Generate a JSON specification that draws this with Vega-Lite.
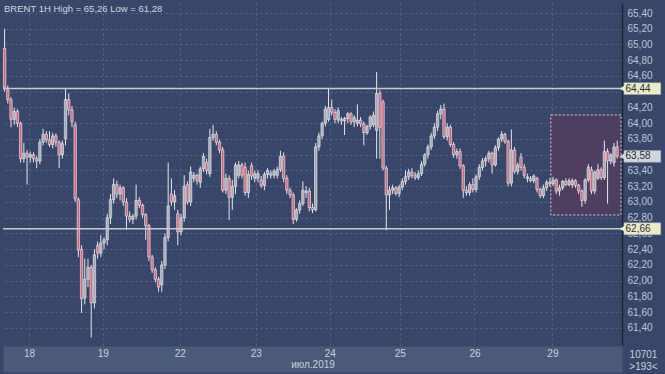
{
  "$schema": "https://vega.github.io/schema/vega-lite/v6.json",
  "width": 619,
  "height": 342,
  "autosize": {"type": "none"},
  "padding": {"left": 3, "top": 3, "right": 43, "bottom": 29},
  "background": "#384669",
  "title": {"text": "BRENT 1H High = 65,26 Low = 61,28", "anchor": "start", "frame": "group", "orient": "top", "offset": -10, "fontSize": 9.5, "font": "Liberation Sans Narrow, Liberation Sans", "fontWeight": "normal", "color": "#d0d6e0", "dx": 1},
  "config": {
    "view": {"fill": "#384669", "stroke": null},
    "font": "Liberation Sans",
    "axis": {"labelOverlap": false, "labelFlush": false}
  },
  "resolve": {"axis": {"x": "independent"}},
  "datasets": {
    "candles": [
      {"i":0,"o":64.95,"h":65.20,"l":64.40,"c":64.45},
      {"i":1,"o":64.42,"h":64.48,"l":64.25,"c":64.30},
      {"i":2,"o":64.30,"h":64.33,"l":63.95,"c":64.05},
      {"i":3,"o":64.05,"h":64.20,"l":63.98,"c":64.15},
      {"i":4,"o":64.15,"h":64.18,"l":63.95,"c":64.00},
      {"i":5,"o":64.00,"h":64.02,"l":63.50,"c":63.55},
      {"i":6,"o":63.55,"h":63.75,"l":63.50,"c":63.62},
      {"i":7,"o":63.62,"h":63.66,"l":63.22,"c":63.57},
      {"i":8,"o":63.57,"h":63.64,"l":63.50,"c":63.60},
      {"i":9,"o":63.60,"h":63.63,"l":63.50,"c":63.55},
      {"i":10,"o":63.55,"h":63.58,"l":63.43,"c":63.52},
      {"i":11,"o":63.52,"h":63.80,"l":63.48,"c":63.76},
      {"i":12,"o":63.76,"h":63.93,"l":63.72,"c":63.86},
      {"i":13,"o":63.86,"h":63.90,"l":63.75,"c":63.79},
      {"i":14,"o":63.79,"h":63.90,"l":63.70,"c":63.73},
      {"i":15,"o":63.73,"h":63.88,"l":63.68,"c":63.84},
      {"i":16,"o":63.84,"h":63.87,"l":63.70,"c":63.76},
      {"i":17,"o":63.76,"h":63.78,"l":63.43,"c":63.60},
      {"i":18,"o":63.60,"h":63.78,"l":63.55,"c":63.74},
      {"i":19,"o":63.80,"h":64.45,"l":63.72,"c":64.30},
      {"i":20,"o":64.30,"h":64.38,"l":64.10,"c":64.17},
      {"i":21,"o":64.17,"h":64.22,"l":63.95,"c":64.02},
      {"i":22,"o":63.98,"h":64.02,"l":63.00,"c":63.04},
      {"i":23,"o":63.03,"h":63.06,"l":62.30,"c":62.39},
      {"i":24,"o":62.40,"h":62.45,"l":61.59,"c":61.77},
      {"i":25,"o":61.78,"h":62.28,"l":61.70,"c":62.02},
      {"i":26,"o":62.02,"h":62.28,"l":61.92,"c":62.17},
      {"i":27,"o":62.17,"h":62.20,"l":61.28,"c":61.72},
      {"i":28,"o":61.72,"h":62.40,"l":61.65,"c":62.33},
      {"i":29,"o":62.45,"h":62.50,"l":62.28,"c":62.35},
      {"i":30,"o":62.35,"h":62.58,"l":62.30,"c":62.48},
      {"i":31,"o":62.48,"h":62.55,"l":62.40,"c":62.52},
      {"i":32,"o":62.52,"h":62.85,"l":62.45,"c":62.80},
      {"i":33,"o":62.80,"h":63.10,"l":62.72,"c":63.03},
      {"i":34,"o":63.03,"h":63.30,"l":62.98,"c":63.22},
      {"i":35,"o":63.22,"h":63.27,"l":63.05,"c":63.10},
      {"i":36,"o":63.10,"h":63.22,"l":63.02,"c":63.18},
      {"i":37,"o":63.18,"h":63.20,"l":62.95,"c":63.00},
      {"i":38,"o":63.00,"h":63.05,"l":62.65,"c":62.82},
      {"i":39,"o":62.82,"h":62.88,"l":62.74,"c":62.78},
      {"i":40,"o":62.78,"h":62.85,"l":62.72,"c":62.82},
      {"i":41,"o":62.82,"h":63.22,"l":62.78,"c":63.02},
      {"i":42,"o":63.02,"h":63.06,"l":62.92,"c":62.96},
      {"i":43,"o":62.96,"h":62.98,"l":62.80,"c":62.84},
      {"i":44,"o":62.84,"h":62.86,"l":62.52,"c":62.70},
      {"i":45,"o":62.70,"h":62.72,"l":62.25,"c":62.30},
      {"i":46,"o":62.30,"h":62.33,"l":62.10,"c":62.14},
      {"i":47,"o":62.14,"h":62.17,"l":61.98,"c":62.02},
      {"i":48,"o":62.02,"h":62.05,"l":61.86,"c":61.92},
      {"i":49,"o":61.95,"h":62.25,"l":61.86,"c":62.20},
      {"i":50,"o":62.20,"h":62.60,"l":62.15,"c":62.55},
      {"i":51,"o":62.55,"h":63.50,"l":62.50,"c":62.95},
      {"i":52,"o":63.10,"h":63.30,"l":62.95,"c":63.00},
      {"i":53,"o":63.00,"h":63.15,"l":62.90,"c":63.08},
      {"i":54,"o":62.85,"h":62.90,"l":62.45,"c":62.62},
      {"i":55,"o":62.62,"h":62.85,"l":62.58,"c":62.80},
      {"i":56,"o":62.80,"h":63.34,"l":62.75,"c":63.20},
      {"i":57,"o":63.22,"h":63.26,"l":62.97,"c":63.00},
      {"i":58,"o":63.00,"h":63.45,"l":62.95,"c":63.38},
      {"i":59,"o":63.30,"h":63.38,"l":63.25,"c":63.34},
      {"i":60,"o":63.34,"h":63.36,"l":63.22,"c":63.27},
      {"i":61,"o":63.25,"h":63.45,"l":63.18,"c":63.42},
      {"i":62,"o":63.42,"h":63.62,"l":63.38,"c":63.58},
      {"i":63,"o":63.50,"h":63.55,"l":63.35,"c":63.40},
      {"i":64,"o":63.36,"h":63.93,"l":63.32,"c":63.82},
      {"i":65,"o":63.82,"h":63.98,"l":63.78,"c":63.86},
      {"i":66,"o":63.86,"h":63.90,"l":63.72,"c":63.76},
      {"i":67,"o":63.76,"h":63.79,"l":63.62,"c":63.66},
      {"i":68,"o":63.66,"h":63.70,"l":63.12,"c":63.15},
      {"i":69,"o":63.15,"h":63.36,"l":63.10,"c":63.30},
      {"i":70,"o":63.30,"h":63.34,"l":62.77,"c":63.06},
      {"i":71,"o":63.06,"h":63.28,"l":62.90,"c":63.20},
      {"i":72,"o":63.20,"h":63.50,"l":63.10,"c":63.47},
      {"i":73,"o":63.34,"h":63.52,"l":63.30,"c":63.47},
      {"i":74,"o":63.47,"h":63.50,"l":63.30,"c":63.34},
      {"i":75,"o":63.44,"h":63.50,"l":63.08,"c":63.12},
      {"i":76,"o":63.12,"h":63.40,"l":63.05,"c":63.35},
      {"i":77,"o":63.46,"h":63.50,"l":63.28,"c":63.33},
      {"i":78,"o":63.30,"h":63.40,"l":63.25,"c":63.36},
      {"i":79,"o":63.30,"h":63.40,"l":63.25,"c":63.36},
      {"i":80,"o":63.28,"h":63.33,"l":63.18,"c":63.21},
      {"i":81,"o":63.21,"h":63.38,"l":63.15,"c":63.35},
      {"i":82,"o":63.35,"h":63.43,"l":63.30,"c":63.40},
      {"i":83,"o":63.36,"h":63.40,"l":63.30,"c":63.34},
      {"i":84,"o":63.34,"h":63.42,"l":63.30,"c":63.39},
      {"i":85,"o":63.34,"h":63.45,"l":63.30,"c":63.41},
      {"i":86,"o":63.41,"h":63.65,"l":63.38,"c":63.58},
      {"i":87,"o":63.58,"h":63.63,"l":63.25,"c":63.30},
      {"i":88,"o":63.30,"h":63.34,"l":63.10,"c":63.15},
      {"i":89,"o":63.15,"h":63.18,"l":63.05,"c":63.09},
      {"i":90,"o":63.09,"h":63.12,"l":62.72,"c":62.78},
      {"i":91,"o":62.78,"h":62.92,"l":62.75,"c":62.90},
      {"i":92,"o":62.90,"h":63.02,"l":62.85,"c":62.98},
      {"i":93,"o":62.98,"h":63.26,"l":62.95,"c":63.15},
      {"i":94,"o":63.12,"h":63.20,"l":63.05,"c":63.14},
      {"i":95,"o":63.14,"h":63.18,"l":62.88,"c":62.93},
      {"i":96,"o":62.93,"h":62.98,"l":62.86,"c":62.90},
      {"i":97,"o":62.90,"h":63.75,"l":62.88,"c":63.70},
      {"i":98,"o":63.70,"h":63.88,"l":63.65,"c":63.84},
      {"i":99,"o":63.84,"h":64.02,"l":63.80,"c":64.00},
      {"i":100,"o":64.00,"h":64.22,"l":63.96,"c":64.18},
      {"i":101,"o":64.05,"h":64.45,"l":64.02,"c":64.20},
      {"i":102,"o":64.20,"h":64.30,"l":64.10,"c":64.14},
      {"i":103,"o":64.14,"h":64.18,"l":64.00,"c":64.05},
      {"i":104,"o":64.04,"h":64.20,"l":64.00,"c":64.16},
      {"i":105,"o":64.05,"h":64.08,"l":63.98,"c":64.03},
      {"i":106,"o":64.03,"h":64.08,"l":63.85,"c":64.06},
      {"i":107,"o":64.06,"h":64.14,"l":64.00,"c":64.12},
      {"i":108,"o":64.12,"h":64.14,"l":63.98,"c":64.02},
      {"i":109,"o":64.02,"h":64.10,"l":63.95,"c":64.07},
      {"i":110,"o":64.00,"h":64.24,"l":63.96,"c":64.04},
      {"i":111,"o":64.04,"h":64.08,"l":63.95,"c":63.99},
      {"i":112,"o":63.99,"h":64.02,"l":63.72,"c":63.88},
      {"i":113,"o":63.88,"h":63.98,"l":63.85,"c":63.96},
      {"i":114,"o":63.96,"h":64.10,"l":63.92,"c":64.08},
      {"i":115,"o":63.98,"h":64.15,"l":63.95,"c":64.10},
      {"i":116,"o":63.91,"h":64.65,"l":63.55,"c":64.38},
      {"i":117,"o":64.38,"h":64.42,"l":63.55,"c":63.95},
      {"i":118,"o":64.27,"h":64.30,"l":63.40,"c":63.43},
      {"i":119,"o":63.43,"h":63.46,"l":62.64,"c":63.09},
      {"i":120,"o":63.09,"h":63.20,"l":62.90,"c":63.15},
      {"i":121,"o":63.15,"h":63.22,"l":63.10,"c":63.18},
      {"i":122,"o":63.18,"h":63.20,"l":63.08,"c":63.11},
      {"i":123,"o":63.11,"h":63.22,"l":63.06,"c":63.19},
      {"i":124,"o":63.19,"h":63.30,"l":63.15,"c":63.26},
      {"i":125,"o":63.26,"h":63.40,"l":63.22,"c":63.32},
      {"i":126,"o":63.32,"h":63.42,"l":63.28,"c":63.38},
      {"i":127,"o":63.38,"h":63.43,"l":63.30,"c":63.34},
      {"i":128,"o":63.34,"h":63.38,"l":63.28,"c":63.31},
      {"i":129,"o":63.31,"h":63.40,"l":63.28,"c":63.36},
      {"i":130,"o":63.36,"h":63.52,"l":63.33,"c":63.48},
      {"i":131,"o":63.48,"h":63.62,"l":63.45,"c":63.60},
      {"i":132,"o":63.60,"h":63.73,"l":63.55,"c":63.70},
      {"i":133,"o":63.70,"h":63.88,"l":63.66,"c":63.84},
      {"i":134,"o":63.84,"h":64.00,"l":63.80,"c":63.95},
      {"i":135,"o":63.95,"h":64.16,"l":63.90,"c":64.12},
      {"i":136,"o":64.12,"h":64.23,"l":64.05,"c":64.18},
      {"i":137,"o":64.18,"h":64.25,"l":63.80,"c":63.83},
      {"i":138,"o":63.83,"h":64.00,"l":63.78,"c":63.95},
      {"i":139,"o":63.95,"h":63.98,"l":63.70,"c":63.73},
      {"i":140,"o":63.73,"h":63.76,"l":63.56,"c":63.60},
      {"i":141,"o":63.60,"h":63.68,"l":63.55,"c":63.64},
      {"i":142,"o":63.64,"h":63.68,"l":63.42,"c":63.46},
      {"i":143,"o":63.46,"h":63.48,"l":63.05,"c":63.15},
      {"i":144,"o":63.15,"h":63.20,"l":63.08,"c":63.12},
      {"i":145,"o":63.12,"h":63.25,"l":63.08,"c":63.22},
      {"i":146,"o":63.22,"h":63.30,"l":63.12,"c":63.16},
      {"i":147,"o":63.16,"h":63.35,"l":63.12,"c":63.32},
      {"i":148,"o":63.32,"h":63.48,"l":63.28,"c":63.44},
      {"i":149,"o":63.44,"h":63.56,"l":63.40,"c":63.52},
      {"i":150,"o":63.52,"h":63.58,"l":63.45,"c":63.55},
      {"i":151,"o":63.55,"h":63.65,"l":63.50,"c":63.62},
      {"i":152,"o":63.62,"h":63.64,"l":63.36,"c":63.47},
      {"i":153,"o":63.47,"h":63.72,"l":63.45,"c":63.69},
      {"i":154,"o":63.69,"h":63.82,"l":63.65,"c":63.80},
      {"i":155,"o":63.80,"h":63.90,"l":63.76,"c":63.86},
      {"i":156,"o":63.86,"h":63.88,"l":63.74,"c":63.77},
      {"i":157,"o":63.77,"h":63.79,"l":63.20,"c":63.24},
      {"i":158,"o":63.24,"h":63.92,"l":63.20,"c":63.66},
      {"i":159,"o":63.66,"h":63.70,"l":63.36,"c":63.39},
      {"i":160,"o":63.39,"h":63.50,"l":63.35,"c":63.47},
      {"i":161,"o":63.57,"h":63.62,"l":63.40,"c":63.44},
      {"i":162,"o":63.44,"h":63.48,"l":63.30,"c":63.34},
      {"i":163,"o":63.30,"h":63.36,"l":63.25,"c":63.32},
      {"i":164,"o":63.30,"h":63.33,"l":63.25,"c":63.27},
      {"i":165,"o":63.27,"h":63.35,"l":63.24,"c":63.33},
      {"i":166,"o":63.30,"h":63.32,"l":63.12,"c":63.16},
      {"i":167,"o":63.16,"h":63.18,"l":63.05,"c":63.08},
      {"i":168,"o":63.08,"h":63.22,"l":63.05,"c":63.18},
      {"i":169,"o":63.18,"h":63.28,"l":63.14,"c":63.25},
      {"i":170,"o":63.25,"h":63.30,"l":63.20,"c":63.23},
      {"i":171,"o":63.23,"h":63.32,"l":63.20,"c":63.28},
      {"i":172,"o":63.28,"h":63.30,"l":63.10,"c":63.14},
      {"i":173,"o":63.14,"h":63.22,"l":63.08,"c":63.18},
      {"i":174,"o":63.18,"h":63.28,"l":63.15,"c":63.26},
      {"i":175,"o":63.26,"h":63.30,"l":63.20,"c":63.22},
      {"i":176,"o":63.22,"h":63.30,"l":63.20,"c":63.27},
      {"i":177,"o":63.22,"h":63.30,"l":63.18,"c":63.27},
      {"i":178,"o":63.27,"h":63.29,"l":63.18,"c":63.21},
      {"i":179,"o":63.21,"h":63.23,"l":63.10,"c":63.14},
      {"i":180,"o":63.14,"h":63.16,"l":62.94,"c":63.02},
      {"i":181,"o":63.02,"h":63.30,"l":62.98,"c":63.28},
      {"i":182,"o":63.28,"h":63.48,"l":63.25,"c":63.44},
      {"i":183,"o":63.41,"h":63.45,"l":63.10,"c":63.14},
      {"i":184,"o":63.14,"h":63.40,"l":63.10,"c":63.38},
      {"i":185,"o":63.30,"h":63.48,"l":63.28,"c":63.41},
      {"i":186,"o":63.41,"h":63.44,"l":63.28,"c":63.31},
      {"i":187,"o":63.31,"h":63.78,"l":63.28,"c":63.64},
      {"i":188,"o":63.64,"h":63.68,"l":62.98,"c":63.52},
      {"i":189,"o":63.52,"h":63.62,"l":63.48,"c":63.60},
      {"i":190,"o":63.50,"h":63.75,"l":63.45,"c":63.70},
      {"i":191,"o":63.70,"h":63.78,"l":63.55,"c":63.58}
    ],
    "levels": [{"v": 64.44}, {"v": 62.66}],
    "zone": [{"x1": 170.3, "x2": 192.2, "y1": 64.105, "y2": 62.835}],
    "tags": [
      {"v": 64.44, "top": 64.515, "bot": 64.365, "label": "64,44", "kind": "level"},
      {"v": 62.66, "top": 62.735, "bot": 62.585, "label": "62,66", "kind": "level"},
      {"v": 63.58, "top": 63.655, "bot": 63.505, "label": "63,58", "kind": "last"}
    ]
  },
  "layer": [
    {
      "data": {"name": "zone"},
      "mark": {"type": "rect", "fill": "#4e3e5f", "stroke": "#e4d4e4", "strokeDash": [2, 2], "strokeWidth": 1},
      "encoding": {
        "x": {"field": "x1", "type": "quantitative", "scale": {"domain": [-0.5, 192.5], "nice": false, "zero": false, "padding": 0},
          "axis": {
            "orient": "bottom", "zindex": 0,
            "values": [7.6, 30.6, 54.6, 78.3, 101.4, 123.2, 146.5, 170.8], "tickCount": 30,
            "grid": true, "gridColor": "#56668a", "gridDash": [2, 3], "gridWidth": 1,
            "ticks": false, "tickSize": 0, "labels": false, "title": null,
            "domain": true, "domainColor": "#4b5a78", "domainWidth": 26, "offset": 14
          }},
        "x2": {"field": "x2"},
        "y": {"field": "y1", "type": "quantitative", "scale": {"domain": [61.184, 65.527], "nice": false, "zero": false, "padding": 0},
          "axis": {
            "orient": "right",
            "values": [61.4, 61.6, 61.8, 62.0, 62.2, 62.4, 62.6, 62.8, 63.0, 63.2, 63.4, 63.6, 63.8, 64.0, 64.2, 64.4, 64.6, 64.8, 65.0, 65.2, 65.4],
            "tickCount": 40,
            "labelExpr": "(datum.value == 64.4 || datum.value == 63.6) ? '' : replace(format(datum.value, '.2f'), '.', ',')",
            "labelOverlap": false, "labelFlush": false,
            "grid": true, "gridColor": "#56668a", "gridDash": [2, 3], "gridWidth": 1,
            "ticks": false, "tickSize": 0,
            "domain": true, "domainColor": "#1c2436", "domainWidth": 1.5,
            "labelPadding": 5, "labelColor": "#bcc6d8", "labelFontSize": 10, "labelFont": "Liberation Sans",
            "title": ["10701", ">193<"], "titleAngle": 0, "titleX": 21, "titleY": 346, "titleAlign": "center", "titleBaseline": "top",
            "titleColor": "#c8d0dc", "titleFontSize": 10, "titleFontWeight": "normal", "titleFont": "Liberation Sans", "titleLineHeight": 12
          }},
        "y2": {"field": "y2"}
      }
    },
    {
      "data": {"name": "candles"},
      "mark": {"type": "rule", "color": "#e6e6ec", "strokeWidth": 1},
      "encoding": {
        "x": {"field": "i", "type": "quantitative", "scale": {"domain": [-0.5, 192.5], "nice": false, "zero": false, "padding": 0},
          "axis": {
            "orient": "bottom", "zindex": 1,
            "values": [7.6, 30.6, 54.6, 78.3, 101.4, 123.2, 146.5, 170.8], "tickCount": 30,
            "labelExpr": "datum.value < 20 ? '18' : datum.value < 40 ? '19' : datum.value < 60 ? '22' : datum.value < 90 ? '23' : datum.value < 110 ? '24' : datum.value < 130 ? '25' : datum.value < 160 ? '26' : '29'",
            "grid": false, "ticks": false, "tickSize": 0, "domain": false, "offset": 3,
            "labelPadding": 0, "labelBaseline": "top", "labelColor": "#c8d0dc", "labelFontSize": 10, "labelFont": "Liberation Sans", "labelOverlap": false, "labelFlush": false,
            "title": "июл.2019", "titleColor": "#c8d0dc", "titleFontSize": 10, "titleFontWeight": "normal", "titleFont": "Liberation Sans",
            "titleBaseline": "top", "titleY": 11, "titlePadding": 0
          }},
        "y": {"field": "l", "type": "quantitative"},
        "y2": {"field": "h"}
      }
    },
    {
      "data": {"name": "candles"},
      "mark": {"type": "bar", "width": 2.4, "stroke": "#f2f2f4", "strokeWidth": 0.6},
      "encoding": {
        "x": {"field": "i", "type": "quantitative", "scale": {"domain": [-0.5, 192.5], "nice": false, "zero": false, "padding": 0}, "axis": null},
        "y": {"field": "o", "type": "quantitative"},
        "y2": {"field": "c"},
        "fill": {"condition": {"test": "datum.c >= datum.o", "value": "#a6aab4"}, "value": "#d2687f"}
      }
    },
    {
      "data": {"name": "levels"},
      "mark": {"type": "rule", "color": "#cacaca", "strokeWidth": 1.5},
      "encoding": {
        "y": {"field": "v", "type": "quantitative"}
      }
    },
    {
      "data": {"name": "tags"},
      "mark": {"type": "rect", "stroke": "#9aa0a8", "strokeWidth": 0.5},
      "encoding": {
        "x": {"datum": 193.1, "type": "quantitative", "scale": {"domain": [-0.5, 192.5], "nice": false, "zero": false, "padding": 0}, "axis": null},
        "x2": {"datum": 204.6},
        "y": {"field": "top", "type": "quantitative"},
        "y2": {"field": "bot"},
        "fill": {"condition": {"test": "datum.kind == 'level'", "value": "#ecebc8"}, "value": "#d2d6dc"}
      }
    },
    {
      "data": {"name": "tags"},
      "mark": {"type": "point", "shape": "triangle-left", "filled": true, "size": 45, "opacity": 1},
      "encoding": {
        "x": {"datum": 192.6, "type": "quantitative", "scale": {"domain": [-0.5, 192.5], "nice": false, "zero": false, "padding": 0}, "axis": null},
        "y": {"field": "v", "type": "quantitative"},
        "fill": {"condition": {"test": "datum.kind == 'level'", "value": "#ecebc8"}, "value": "#d2d6dc"}
      }
    },
    {
      "data": {"name": "tags"},
      "mark": {"type": "text", "align": "left", "baseline": "middle", "fontSize": 10, "font": "Liberation Sans", "color": "#2a2e38"},
      "encoding": {
        "x": {"datum": 193.6, "type": "quantitative", "scale": {"domain": [-0.5, 192.5], "nice": false, "zero": false, "padding": 0}, "axis": null},
        "y": {"field": "v", "type": "quantitative"},
        "text": {"field": "label"}
      }
    }
  ]
}
